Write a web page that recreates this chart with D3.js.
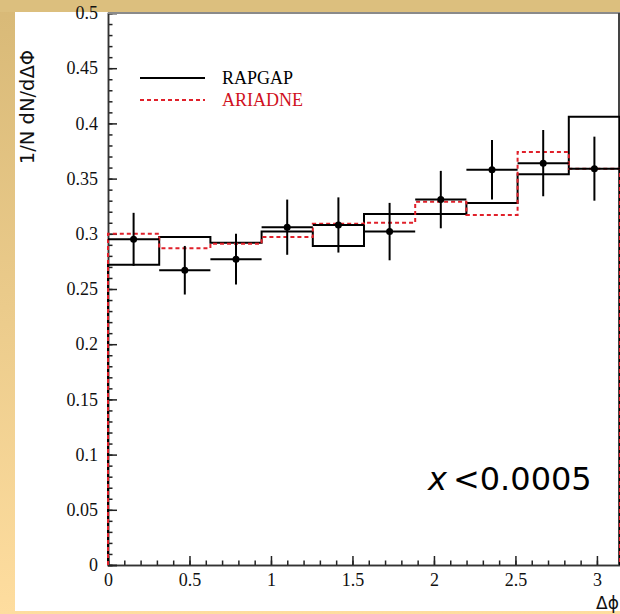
<!DOCTYPE html>
<html><head><meta charset="utf-8">
<script src="https://cdn.jsdelivr.net/npm/d3@7"></script>
<style>
html,body{margin:0;padding:0;background:#fff;}
svg{display:block;}
</style></head>
<body>
<script>
// ---- data ----
const nBins = 10;
const xMax = Math.PI;
const rapgap  = [0.272, 0.297, 0.292, 0.302, 0.289, 0.318, 0.318, 0.328, 0.354, 0.406];
const ariadne = [0.300, 0.287, 0.291, 0.297, 0.309, 0.310, 0.329, 0.317, 0.374, 0.359];
const dataVal = [0.295, 0.267, 0.277, 0.306, 0.308, 0.302, 0.331, 0.358, 0.364, 0.359];
const dataErr = [0.024, 0.022, 0.023, 0.025, 0.025, 0.026, 0.026, 0.027, 0.030, 0.029];
const xTicks = [0, 0.5, 1, 1.5, 2, 2.5, 3];
const yTicks = [0, 0.05, 0.1, 0.15, 0.2, 0.25, 0.3, 0.35, 0.4, 0.45, 0.5];
const legendLabels = ["RAPGAP", "ARIADNE"];

const W = 620, H = 614;
const svg = d3.select("body").append("svg").attr("width", W).attr("height", H);

// background frame (slide border)
const defs = svg.append("defs");
const lg = defs.append("linearGradient").attr("id","gold").attr("x1",0).attr("y1",0).attr("x2",0).attr("y2",1);
lg.append("stop").attr("offset","0%").attr("stop-color","#d8b977");
lg.append("stop").attr("offset","100%").attr("stop-color","#fedd9f");
svg.append("rect").attr("x",0).attr("y",0).attr("width",W).attr("height",H).attr("fill","url(#gold)");
svg.append("rect").attr("x",0).attr("y",0).attr("width",W).attr("height",12).attr("fill","#dcbf7e");
svg.append("rect").attr("x",15).attr("y",12).attr("width",W-15).attr("height",611-12).attr("fill","#fff");

const x = d3.scaleLinear().domain([0, xMax]).range([108, 620]);
const y = d3.scaleLinear().domain([0, 0.5]).range([565, 13]);
const edges = d3.range(nBins + 1).map(i => i * xMax / nBins);
const centers = d3.range(nBins).map(i => (edges[i] + edges[i+1]) / 2);

// axes
const serif = "'Liberation Serif','Times New Roman',serif";
const xAxis = d3.axisBottom(x).tickValues(xTicks).tickSize(-9).tickFormat(d3.format("~g")).tickPadding(8);
const xMinor = d3.axisBottom(x).tickValues(d3.range(0, 31).map(i => i/10)).tickSize(-4.5).tickFormat("");
const yAxis = d3.axisLeft(y).tickValues(yTicks).tickSize(-9).tickFormat(d3.format("~g")).tickPadding(10);
const yMinor = d3.axisLeft(y).tickValues(d3.range(0, 51).map(i => i/100)).tickSize(-4.5).tickFormat("");

function styleAxis(g){
  g.select(".domain").attr("stroke","#333").attr("stroke-width",1.5);
  g.selectAll(".tick line").attr("stroke","#222").attr("stroke-width",1.5);
  g.selectAll(".tick text").attr("fill","#111").style("font-family",serif).style("font-size","18px");
}
svg.append("g").attr("transform","translate(0,565)").call(xMinor).call(styleAxis);
svg.append("g").attr("transform","translate(0,565)").call(xAxis).call(styleAxis);
svg.append("g").attr("transform","translate(108,0)").call(yMinor).call(styleAxis);
svg.append("g").attr("transform","translate(108,0)").call(yAxis).call(styleAxis);

// frame top/right
svg.append("line").attr("x1",108).attr("x2",620).attr("y1",13).attr("y2",13).attr("stroke","#8a8a8a").attr("stroke-width",2);
svg.append("line").attr("x1",619).attr("x2",619).attr("y1",13).attr("y2",565).attr("stroke","#444").attr("stroke-width",2);

// histogram step path
function histPath(vals){
  const p = d3.path();
  p.moveTo(x(0), y(0));
  vals.forEach((v, i) => { p.lineTo(x(edges[i]), y(v)); p.lineTo(x(edges[i+1]), y(v)); });
  p.lineTo(x(xMax), y(0));
  return p.toString();
}
svg.append("path").attr("d", histPath(rapgap)).attr("fill","none").attr("stroke","#000").attr("stroke-width",2);
svg.append("path").attr("d", histPath(ariadne)).attr("fill","none").attr("stroke","#e0202a").attr("stroke-width",2).attr("stroke-dasharray","4,3");

// data points
const pts = svg.append("g");
dataVal.forEach((v, i) => {
  pts.append("line").attr("x1", x(edges[i])).attr("x2", x(edges[i+1])).attr("y1", y(v)).attr("y2", y(v)).attr("stroke","#000").attr("stroke-width",2);
  pts.append("line").attr("x1", x(centers[i])).attr("x2", x(centers[i])).attr("y1", y(v - dataErr[i])).attr("y2", y(v + dataErr[i])).attr("stroke","#000").attr("stroke-width",2);
  pts.append("circle").attr("cx", x(centers[i])).attr("cy", y(v)).attr("r", 3.5).attr("fill","#000");
});

// legend
const leg = svg.append("g");
leg.append("line").attr("x1",140).attr("x2",205).attr("y1",78).attr("y2",78).attr("stroke","#000").attr("stroke-width",2);
leg.append("text").attr("x",222).attr("y",84).text(legendLabels[0]).style("font-family",serif).style("font-size","18px").attr("fill","#000");
leg.append("line").attr("x1",140).attr("x2",205).attr("y1",100).attr("y2",100).attr("stroke","#e0202a").attr("stroke-width",2).attr("stroke-dasharray","4,3");
leg.append("text").attr("x",222).attr("y",106).text(legendLabels[1]).style("font-family",serif).style("font-size","18px").attr("fill","#d01020");

// y title
svg.append("text").attr("transform","translate(34,107) rotate(-90)").attr("text-anchor","middle")
  .style("font-family","'DejaVu Sans',sans-serif").style("font-size","19.5px").attr("fill","#111")
  .text("1/N dN/dΔΦ");
// x title
svg.append("text").attr("x",596).attr("y",609)
  .style("font-family","'DejaVu Sans',sans-serif").style("font-size","17px").attr("fill","#111")
  .text("Δϕ");

// annotation
const ann = svg.append("text").attr("x",428).attr("y",490)
  .style("font-family","'DejaVu Sans',sans-serif").style("font-size","32px").attr("fill","#000");
ann.append("tspan").style("font-style","italic").text("x");
ann.append("tspan").attr("dx",6).text("<0.0005");
</script>
</body></html>
